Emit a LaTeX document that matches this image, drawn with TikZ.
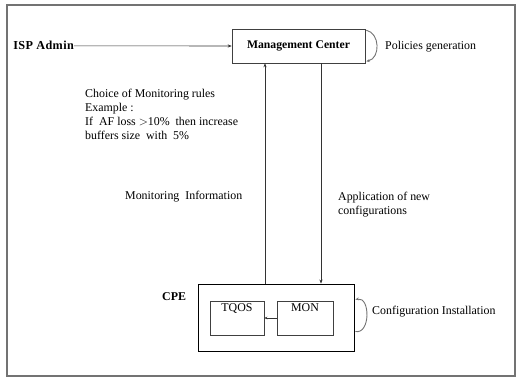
\documentclass[tikz,border=0pt]{standalone}
\usepackage{fontspec}
\setmainfont{Liberation Serif}
\usetikzlibrary{arrows.meta}
\begin{document}
\begin{tikzpicture}[x=1pt,y=-1pt,
  every node/.style={font=\fontsize{11.9}{14}\selectfont},
  box/.style={draw=black!75, line width=0.6pt, rectangle, inner sep=0pt},
  outerbox/.style={draw=black, line width=0.9pt, rectangle, inner sep=0pt},
  txt/.style={inner sep=0pt},
  boldtxt/.style={inner sep=0pt, font=\fontsize{11.9}{14}\selectfont\bfseries},
  flow/.style={draw=black!80, line width=0.6pt, -{Stealth[length=4pt,width=3.2pt]}},
  cyc/.style={draw=black!55, line width=0.9pt, -{Stealth[length=3.5pt,width=3pt]}},
  inlab/.style={anchor=north, yshift=-2.5pt, inner sep=0pt}]
  \useasboundingbox (0,0) rectangle (516,379);
  % outer frame
  \draw[black!55, line width=1.1pt] (7,5) rectangle (515,376);

  % management center and its actor
  \node[box, minimum width=133pt, minimum height=34pt, font=\fontsize{11.7}{14}\selectfont\bfseries] (mc) at (298.5,46) {Management Center};
  \node[boldtxt, anchor=base east, font=\fontsize{12.2}{14}\selectfont\bfseries\addfontfeature{LetterSpace=3}] (isp) at (74,50) {ISP Admin};
  \draw[flow] (isp.east) -- (mc.west);
  \draw[cyc] ([shift={(1pt,-1.5pt)}]mc.north east) .. controls +(14pt,-3pt) and +(14pt,3pt) .. ([shift={(1pt,2pt)}]mc.south east);
  \node[txt, anchor=base west] (pol) at (385,50) {Policies generation};

  % customer premises equipment
  \node[outerbox, minimum width=156pt, minimum height=67pt] (cpe) at (276,317.5) {};
  \node[boldtxt, anchor=base west] (cpelab) at (162,300.5) {CPE};
  \node[box, minimum width=54pt, minimum height=34pt, label={[inlab]north:TQOS}] (tqos) at (237,318) {};
  \node[box, minimum width=56pt, minimum height=34pt, label={[inlab]north:MON}] (mon) at (305,318) {};
  \draw[flow, -{Stealth[length=3pt,width=2.6pt]}] (mon.west) -- (tqos.east);
  \draw[cyc] ([shift={(1pt,-14pt)}]cpe.east) .. controls +(15pt,-3pt) and +(15pt,3pt) .. ([shift={(1pt,18pt)}]cpe.east);
  \node[txt, anchor=base west] (cfg) at (372,314) {Configuration Installation};

  % vertical exchanges
  \coordinate (upx) at (265,0);
  \coordinate (downx) at (321,0);
  \draw[flow] (cpe.north -| upx) -- (mc.south -| upx);
  \draw[flow] (mc.south -| downx) -- (cpe.north -| downx);

  % annotations
  \node[txt, anchor=north west, align=left] (rules) at (85,88.5)
    {Choice of Monitoring rules\\Example :\\If\ \ AF loss $>$10\%\ \ then increase\\buffers size\ \ with\ \ 5\%};
  \node[txt, anchor=base west] (moninfo) at (125,200) {Monitoring\ \ Information};
  \node[txt, anchor=north west, align=left] (app) at (338,192) {Application of new\\configurations};
\end{tikzpicture}
\end{document}
